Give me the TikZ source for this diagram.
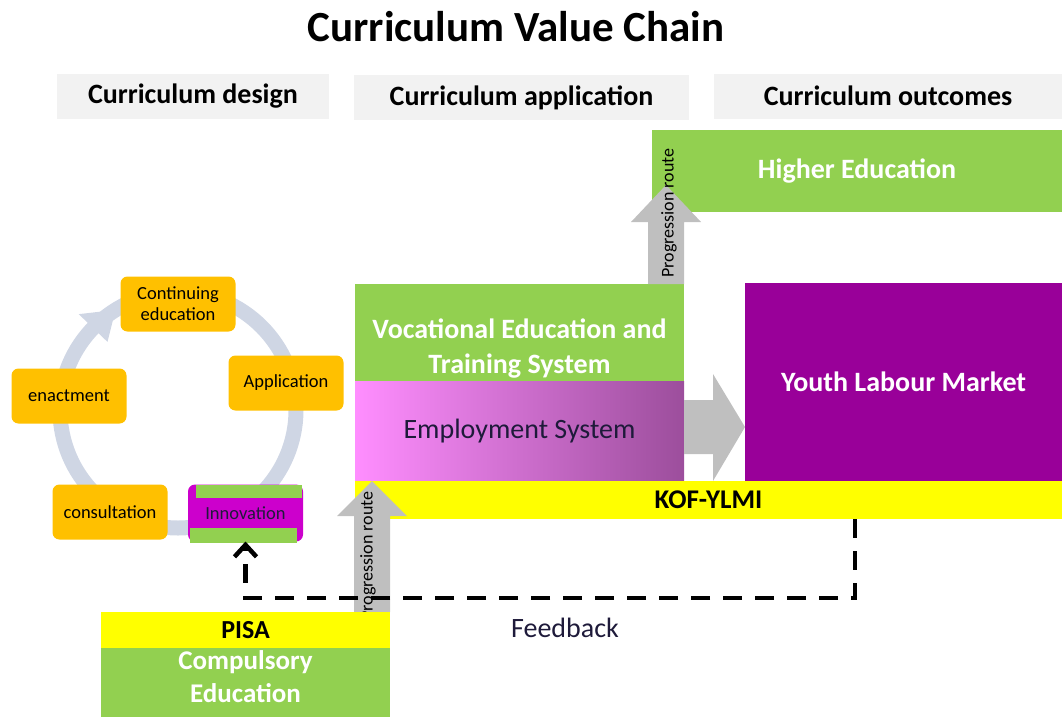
\documentclass[tikz,border=0pt]{standalone}
\usepackage{fontspec}
\setmainfont{Carlito}
\usepackage{xcolor}
\usepackage{tikz}
\usetikzlibrary{positioning, arrows.meta, calc}

\definecolor{paneGray}{HTML}{F2F2F2}
\definecolor{limeGreen}{HTML}{92D050}
\definecolor{labourPurple}{HTML}{990099}
\definecolor{innoPurple}{HTML}{CC00CC}
\definecolor{markYellow}{HTML}{FFFF00}
\definecolor{stageOrange}{HTML}{FFC000}
\definecolor{ringBlue}{HTML}{CFD6E4}
\definecolor{routeGray}{HTML}{BFBFBF}
\definecolor{empLight}{HTML}{FF8EFF}
\definecolor{empDark}{HTML}{9C4E9C}
\definecolor{inkBlue}{HTML}{1E1A3A}

\pgfdeclarelayer{front}
\pgfsetlayers{main,front}

\begin{document}
\begin{tikzpicture}[
        x=1pt, y=-1pt,
        box/.style={rectangle, inner sep=0pt, outer sep=0pt, align=center},
        header/.style={box, fill=paneGray, minimum height=45, font=\fontsize{28}{32}\selectfont\bfseries},
        system/.style={box, text=white, font=\fontsize{28}{35}\selectfont\bfseries},
        bar/.style={box, fill=markYellow, font=\fontsize{27}{30}\selectfont\bfseries},
        stage/.style={box, rounded corners=7pt, fill=stageOrange, minimum width=115, minimum height=55, font=\fontsize{18.5}{21}\selectfont},
        ring/.style={draw=ringBlue, line width=15pt},
        route/.style={fill=routeGray},
        route label/.style={rotate=90, inner sep=0pt, font=\fontsize{18}{20}\selectfont},
        feedback/.style={draw, line width=4.5pt, dash pattern=on 19pt off 13pt, -{Straight Barb[length=12pt, width=22pt]}}
    ]
        \useasboundingbox (0,0) rectangle (1062,717);

        % Title and column headers
        \node[font=\fontsize{43}{48}\selectfont\bfseries] (title) at (516,27) {Curriculum Value Chain};
        \node[header, minimum width=272] (design) at (193,96) {Curriculum design};
        \node[header, minimum width=335] (application) at (521.5,97.5) {Curriculum application};
        \node[header, minimum width=348] (outcomes) at (888,96) {Curriculum outcomes};

        % Design cycle
        \coordinate (hub) at (178,410);
        \draw[ring] (hub) circle[radius=118];
        \fill[ringBlue] ($(hub)+(238:118)$) -- ($(hub)+(224:138)$) -- ($(hub)+(224:98)$) -- cycle;

        \node[stage] (contedu) at (178,304) {Continuing\\education};
        \node[stage] (applic) at (286,383) {Application};
        \node[stage] (enact) at (69,396) {enactment};
        \node[stage] (consult) at (110,512) {consultation};
        \node[stage, fill=innoPurple, text=inkBlue, minimum height=57] (innov) at (245.5,513) {Innovation};
        \fill[limeGreen] ($(innov.north west)+(8,0)$) rectangle ($(innov.north east)+(-1,13)$);
        \fill[limeGreen] ($(innov.south west)+(2,-14)$) rectangle ($(innov.south east)+(-6,1)$);

        % Systems
        \node[system, fill=limeGreen, minimum width=410, minimum height=82] (higher) at (857,171) {Higher Education};
        \node[box, fill=limeGreen, minimum width=329, minimum height=97] (vet) at (519.5,332.5) {};
        \node[system] at ($(vet.center)+(0,16)$) {Vocational Education and\\Training System};
        \node[box, left color=empLight, right color=empDark, minimum width=329, minimum height=100,
              below=0pt of vet, text=inkBlue, font=\fontsize{28}{32}\selectfont] (employ) {Employment System};
        \node[system, fill=labourPurple, minimum width=317, minimum height=198, anchor=north west] (youth) at (745,283) {Youth Labour Market};
        \node[bar, minimum width=707, minimum height=38, anchor=north west] (kof) at (employ.south west) {KOF-YLMI};

        % Compulsory education, kept in front
        \begin{pgfonlayer}{front}
            \node[bar, minimum width=289, minimum height=36, font=\fontsize{26}{28}\selectfont\bfseries] (pisa) at (245.5,630) {PISA};
            \node[box, fill=limeGreen, minimum width=289, minimum height=69, below=0pt of pisa] (compulsory) {};
            \node[system, font=\fontsize{27}{33}\selectfont\bfseries] at ($(compulsory.center)+(0,-6)$) {Compulsory\\Education};
        \end{pgfonlayer}

        % Block arrows
        \coordinate (ra) at ($(employ.east)+(0,-4)$);
        \fill[route] ($(ra)+(0,-27)$) -- ++(29,0) -- ++(0,-26) -- (youth.west |- ra)
            -- ($(ra)+(29,54)$) -- ++(0,-27) -- ($(ra)+(0,27)$) -- cycle;

        \coordinate (pa) at ($(vet.north east)+(-18,0)$);
        \fill[route] ($(pa)+(-18,0)$) -- ++(0,-62) -- ++(-17,0) -- ($(pa)+(0,-99)$)
            -- ($(pa)+(35,-62)$) -- ++(-17,0) -- ($(pa)+(18,0)$) -- cycle;
        \node[route label] at ($(pa)+(3,-71)$) {Progression route};

        \coordinate (pb) at ($(pisa.north east)+(-18,0)$);
        \coordinate (pt) at (employ.south -| pb);
        \fill[route] ($(pb)+(-18,0)$) -- ($(pt)+(-18,35)$) -- ++(-17,0) -- (pt)
            -- ($(pt)+(35,35)$) -- ++(-17,0) -- ($(pb)+(18,0)$) -- cycle;
        \node[route label] at ($(pb)+(-4,-56)$) {Progression route};

        % Feedback loop
        \coordinate (fb) at (855,0);
        \draw[feedback] (kof.south -| fb) -- ++(0,79) -| (innov.south);
        \node[text=inkBlue, font=\fontsize{28}{32}\selectfont] (fblabel) at (565,628) {Feedback};

    \end{tikzpicture}
\end{document}
